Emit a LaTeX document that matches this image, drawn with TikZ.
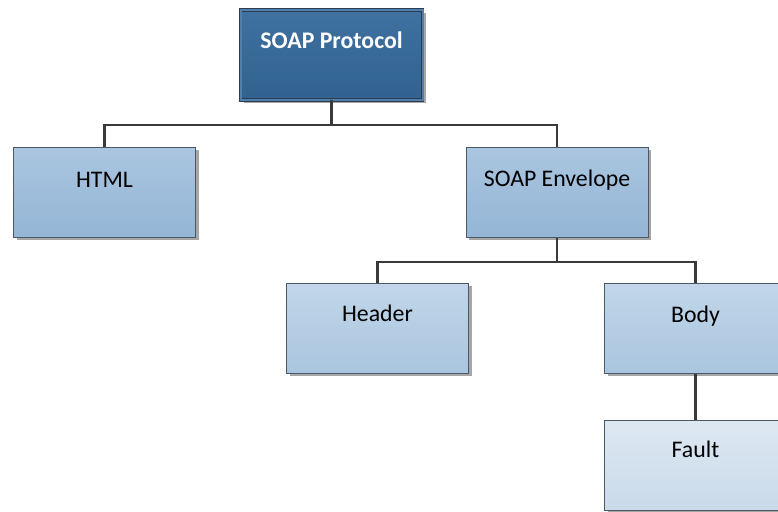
\documentclass[tikz,border=0pt]{standalone}
\usepackage{fontspec}
\setmainfont{Carlito}
\usetikzlibrary{shadows}

\definecolor{rootTop}{HTML}{3F71A1}
\definecolor{rootBot}{HTML}{31628F}
\definecolor{rootLine}{HTML}{2A3D52}
\definecolor{midTop}{HTML}{AAC6E0}
\definecolor{midBot}{HTML}{94B5D5}
\definecolor{lowTop}{HTML}{C2D6E9}
\definecolor{lowBot}{HTML}{A9C5DF}
\definecolor{leafTop}{HTML}{DDE8F2}
\definecolor{leafBot}{HTML}{CADAEA}
\definecolor{boxLine}{HTML}{4B5866}
\definecolor{wireGray}{HTML}{3A3A3A}

\begin{document}
\begin{tikzpicture}[x=1pt,y=-1pt,
        box/.style={rectangle,draw=boxLine,line width=1pt,minimum width=182pt,minimum height=90pt,
                    inner sep=0pt,font=\fontsize{23.8}{27}\selectfont,
                    drop shadow={shadow xshift=3pt,shadow yshift=-3pt,fill=black!35,opacity=1}},
        rootbox/.style={box,top color=rootTop,bottom color=rootBot,draw=rootLine,double=rootTop!90!white,
                    double distance=2pt,line width=0.9pt,text=white,font=\fontsize{23.8}{27}\selectfont\bfseries},
        midbox/.style={box,top color=midTop,bottom color=midBot},
        lowbox/.style={box,top color=lowTop,bottom color=lowBot},
        leafbox/.style={box,top color=leafTop,bottom color=leafBot},
        wire/.style={draw=wireGray,line width=2.4pt}]
        \useasboundingbox (0,0) rectangle (778,511);
        \clip (0,0) rectangle (778,511);

        \node[rootbox] (proto)  at (331.5,55)  {\raisebox{29pt}{SOAP Protocol}};
        \node[midbox]  (html)   at (104.5,192) {\raisebox{25pt}{HTML}};
        \node[midbox]  (env)    at (557,192)   {\raisebox{27pt}{SOAP Envelope}};
        \node[lowbox]  (header) at (377.5,328) {\raisebox{30pt}{Header}};
        \node[lowbox]  (body)   at (695.5,328) {\raisebox{27pt}{Body}};
        \node[leafbox] (fault)  at (695.5,465) {\raisebox{31pt}{Fault}};

        \coordinate (top split) at (331.5,125);
        \coordinate (env split) at (557,262);

        \draw[wire] (proto.south) -- (top split);
        \draw[wire] (html.north) |- (top split) -| (env.north);
        \draw[wire] (env.south) -- (env split);
        \draw[wire] (header.north) |- (env split) -| (body.north);
        \draw[wire] (body.south) -- (fault.north);
    \end{tikzpicture}
\end{document}
